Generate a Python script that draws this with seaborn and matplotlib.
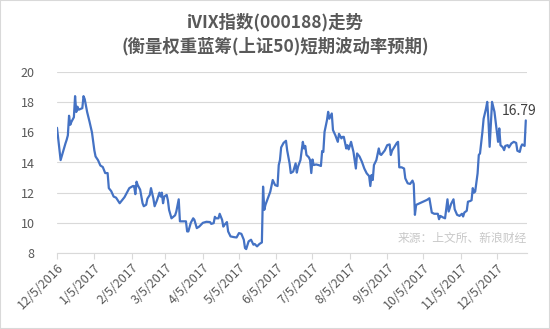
import matplotlib
matplotlib.use("Agg")
import matplotlib.pyplot as plt
from matplotlib.patches import Rectangle
import pandas as pd
import seaborn as sns

# iVIX daily closes, Dec 2016 - Dec 2017
dates = [
    "2016-12-05", "2016-12-08", "2016-12-12", "2016-12-13", "2016-12-14", "2016-12-15",
    "2016-12-16", "2016-12-17", "2016-12-19", "2016-12-20", "2016-12-21", "2016-12-22",
    "2016-12-23", "2016-12-26", "2016-12-27", "2016-12-28", "2016-12-30", "2017-01-01",
    "2017-01-03", "2017-01-05", "2017-01-06", "2017-01-08", "2017-01-10", "2017-01-12",
    "2017-01-14", "2017-01-16", "2017-01-17", "2017-01-19", "2017-01-21", "2017-01-23",
    "2017-01-26", "2017-01-30", "2017-02-03", "2017-02-06", "2017-02-07", "2017-02-08",
    "2017-02-09", "2017-02-10", "2017-02-12", "2017-02-14", "2017-02-15", "2017-02-17",
    "2017-02-18", "2017-02-20", "2017-02-21", "2017-02-23", "2017-02-24", "2017-02-26",
    "2017-02-28", "2017-03-01", "2017-03-02", "2017-03-03", "2017-03-04", "2017-03-06",
    "2017-03-07", "2017-03-08", "2017-03-10", "2017-03-13", "2017-03-14", "2017-03-16",
    "2017-03-17", "2017-03-19", "2017-03-22", "2017-03-23", "2017-03-24", "2017-03-26",
    "2017-03-28", "2017-03-29", "2017-03-31", "2017-04-02", "2017-04-05", "2017-04-08",
    "2017-04-11", "2017-04-12", "2017-04-14", "2017-04-15", "2017-04-16", "2017-04-18",
    "2017-04-19", "2017-04-21", "2017-04-22", "2017-04-23", "2017-04-25", "2017-04-26",
    "2017-04-28", "2017-05-01", "2017-05-03", "2017-05-05", "2017-05-07", "2017-05-09",
    "2017-05-10", "2017-05-11", "2017-05-13", "2017-05-15", "2017-05-17", "2017-05-18",
    "2017-05-20", "2017-05-22", "2017-05-24", "2017-05-25", "2017-05-26", "2017-05-27",
    "2017-05-29", "2017-05-31", "2017-06-02", "2017-06-04", "2017-06-06", "2017-06-07",
    "2017-06-08", "2017-06-09", "2017-06-11", "2017-06-13", "2017-06-14", "2017-06-16",
    "2017-06-17", "2017-06-19", "2017-06-21", "2017-06-22", "2017-06-23", "2017-06-25",
    "2017-06-27", "2017-06-28", "2017-06-29", "2017-06-30", "2017-07-02", "2017-07-03",
    "2017-07-04", "2017-07-05", "2017-07-06", "2017-07-08", "2017-07-10", "2017-07-12",
    "2017-07-13", "2017-07-14", "2017-07-15", "2017-07-17", "2017-07-18", "2017-07-19",
    "2017-07-21", "2017-07-22", "2017-07-24", "2017-07-26", "2017-07-27", "2017-07-29",
    "2017-07-30", "2017-07-31", "2017-08-02", "2017-08-03", "2017-08-04", "2017-08-05",
    "2017-08-06", "2017-08-08", "2017-08-09", "2017-08-10", "2017-08-11", "2017-08-13",
    "2017-08-15", "2017-08-17", "2017-08-19", "2017-08-21", "2017-08-22", "2017-08-23",
    "2017-08-24", "2017-08-25", "2017-08-27", "2017-08-29", "2017-08-30", "2017-08-31",
    "2017-09-03", "2017-09-05", "2017-09-07", "2017-09-08", "2017-09-09", "2017-09-11",
    "2017-09-13", "2017-09-14", "2017-09-15", "2017-09-17", "2017-09-19", "2017-09-20",
    "2017-09-22", "2017-09-24", "2017-09-26", "2017-09-27", "2017-09-28", "2017-09-29",
    "2017-10-03", "2017-10-08", "2017-10-10", "2017-10-12", "2017-10-14", "2017-10-17",
    "2017-10-18", "2017-10-19", "2017-10-20", "2017-10-21", "2017-10-23", "2017-10-25",
    "2017-10-26", "2017-10-28", "2017-10-30", "2017-10-31", "2017-11-02", "2017-11-04",
    "2017-11-06", "2017-11-07", "2017-11-08", "2017-11-10", "2017-11-11", "2017-11-13",
    "2017-11-14", "2017-11-15", "2017-11-16", "2017-11-17", "2017-11-19", "2017-11-20",
    "2017-11-21", "2017-11-23", "2017-11-24", "2017-11-26", "2017-11-27", "2017-11-28",
    "2017-11-29", "2017-11-30", "2017-12-01", "2017-12-03", "2017-12-04", "2017-12-06",
    "2017-12-07", "2017-12-08", "2017-12-10", "2017-12-11", "2017-12-12", "2017-12-14",
    "2017-12-15", "2017-12-17", "2017-12-19", "2017-12-21", "2017-12-22", "2017-12-24",
    "2017-12-25", "2017-12-26", "2017-12-28", "2017-12-29",
]

ivix = [
    16.30, 14.16, 15.26, 15.50, 15.80, 17.10,
    16.50, 16.70, 17.00, 18.40, 17.35, 17.70,
    17.50, 17.60, 18.40, 18.20, 17.35, 16.70,
    16.00, 14.80, 14.40, 14.16, 13.80, 13.70,
    13.30, 13.30, 12.30, 12.10, 11.74, 11.67,
    11.30, 11.70, 12.30, 12.44, 12.44, 11.90,
    12.73, 12.50, 12.20, 11.30, 11.10, 11.20,
    11.60, 11.85, 12.30, 11.60, 11.10, 11.50,
    12.00, 11.74, 12.00, 11.30, 11.74, 11.85,
    11.50, 10.86, 10.30, 10.50, 10.75, 11.56,
    10.10, 10.10, 10.10, 9.43, 9.43, 10.00,
    10.30, 10.20, 9.65, 9.75, 10.00, 10.07,
    10.05, 9.93, 9.98, 10.40, 10.30, 10.30,
    10.60, 10.20, 9.75, 9.87, 10.05, 9.43,
    9.10, 9.05, 9.03, 9.32, 9.27, 8.88,
    8.33, 8.26, 8.77, 8.88, 8.55, 8.60,
    8.44, 8.60, 8.70, 12.40, 10.86, 11.20,
    11.63, 12.07, 12.84, 12.50, 12.44, 13.83,
    14.16, 15.00, 15.30, 15.44, 14.80, 13.94,
    13.30, 13.40, 13.94, 13.33, 13.72, 14.16,
    15.37, 14.93, 15.10, 14.50, 14.34, 14.16,
    13.30, 14.20, 13.83, 13.87, 13.83, 13.77,
    14.76, 14.70, 16.03, 16.80, 17.36, 16.90,
    17.25, 16.15, 15.80, 15.37, 15.90, 15.60,
    15.70, 15.70, 14.93, 15.15, 14.87, 15.10,
    15.37, 14.70, 14.16, 13.60, 14.60, 14.40,
    14.05, 13.60, 13.28, 13.10, 12.44, 13.17,
    12.84, 13.83, 14.16, 14.93, 14.56, 14.50,
    14.80, 15.15, 15.20, 14.50, 14.78, 15.04,
    15.30, 15.37, 13.68, 13.68, 13.60, 12.95,
    12.62, 12.58, 12.80, 12.58, 10.53, 11.19,
    11.34, 11.52, 11.63, 10.68, 10.60, 10.60,
    10.24, 10.46, 10.42, 10.37, 10.30, 11.56,
    10.75, 11.25, 11.56, 10.90, 10.53, 10.46,
    10.60, 10.42, 10.68, 10.80, 11.40, 11.45,
    11.50, 12.30, 12.00, 12.07, 13.28, 14.50,
    14.60, 16.03, 16.90, 17.58, 18.02, 16.80,
    15.04, 16.48, 18.02, 17.36, 16.70, 15.37,
    16.26, 15.15, 15.00, 14.82, 15.10, 15.15,
    15.00, 15.26, 15.37, 15.30, 14.78, 14.70,
    15.04, 15.20, 15.10, 16.79,
]

tick_dates = [
    "2016-12-05", "2017-01-05", "2017-02-05", "2017-03-05", "2017-04-05",
    "2017-05-05", "2017-06-05", "2017-07-05", "2017-08-05", "2017-09-05",
    "2017-10-05", "2017-11-05", "2017-12-05",
]
tick_labels = [
    "12/5/2016", "1/5/2017", "2/5/2017", "3/5/2017", "4/5/2017", "5/5/2017",
    "6/5/2017", "7/5/2017", "8/5/2017", "9/5/2017", "10/5/2017", "11/5/2017",
    "12/5/2017",
]
y_ticks = [8, 10, 12, 14, 16, 18, 20]

title_text = "iVIX指数(000188)走势\n(衡量权重蓝筹(上证50)短期波动率预期)"
source_text = "来源：上文所、新浪财经"

sns.set_theme(style="white")
plt.rcParams["font.family"] = ["Noto Sans CJK SC", "DejaVu Sans"]

df = pd.DataFrame({"date": pd.to_datetime(dates), "ivix": ivix})

fig = plt.figure(figsize=(5.5, 3.29), dpi=100)
ax = fig.add_axes([57 / 550, 1 - 253 / 329, 470 / 550, 181 / 329])

sns.lineplot(data=df, x="date", y="ivix", ax=ax, color="#4472C4",
             linewidth=1.6, zorder=3)

ax.set_ylim(8, 20)
ax.set_xlim(pd.Timestamp("2016-12-05"), pd.Timestamp("2017-12-30"))
ax.set_yticks(y_ticks)
ax.set_yticklabels([str(v) for v in y_ticks], fontsize=9, color="#595959")
ax.set_xticks(pd.to_datetime(tick_dates))
ax.set_xticklabels(tick_labels, fontsize=9, color="#595959", rotation=45,
                   ha="right", rotation_mode="anchor")
ax.set_xlabel("")
ax.set_ylabel("")

ax.grid(axis="y", color="#d9d9d9", linewidth=0.8)
ax.grid(axis="x", visible=False)
for side in ["top", "right", "left"]:
    ax.spines[side].set_visible(False)
ax.spines["bottom"].set_color("#d9d9d9")
ax.spines["bottom"].set_linewidth(0.8)
ax.tick_params(axis="x", which="major", bottom=True, length=4, width=0.8,
               color="#d9d9d9", pad=2)
ax.tick_params(axis="y", left=False, pad=10)

# last value label
last_date = df["date"].iloc[-1]
last_val = df["ivix"].iloc[-1]
ax.annotate(f"{last_val:.2f}", xy=(last_date, last_val), xytext=(8, 2),
            textcoords="offset points", ha="right", va="bottom",
            fontsize=10, color="#404040", annotation_clip=False)

ax.text(1.0, 0.08, source_text, transform=ax.transAxes, ha="right",
        va="center", fontsize=8.5, color="#c8c8c8")

fig.text(0.5, 1 - 34 / 329, title_text, ha="center", va="center",
         fontsize=12.5, fontweight="bold", color="#595959", linespacing=1.4)

fig.patches.append(Rectangle((0, 0), 1, 1, transform=fig.transFigure,
                             fill=False, edgecolor="#d9d9d9", linewidth=1.5))

fig.savefig("out.png", dpi=100)
